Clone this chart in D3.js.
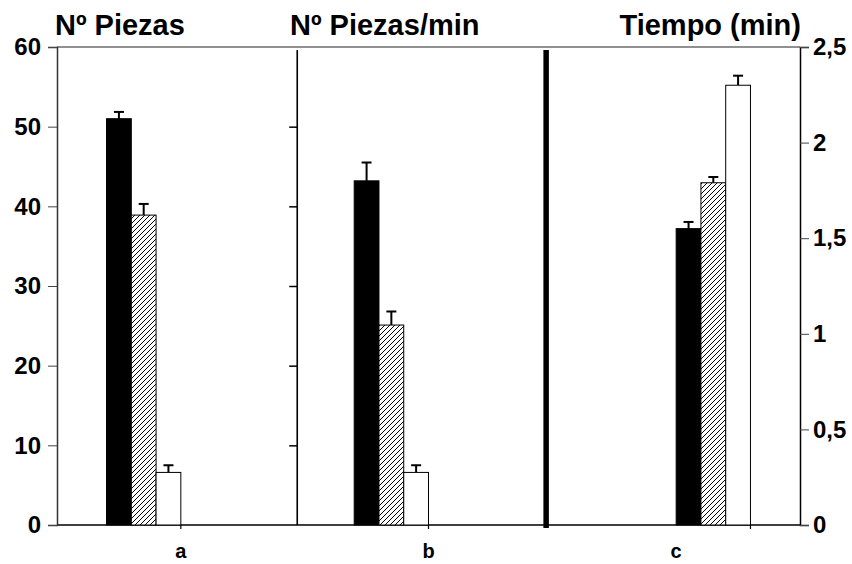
<!DOCTYPE html>
<html>
<head>
<meta charset="utf-8">
<script src="https://cdn.jsdelivr.net/npm/d3@7"></script>
<style>
  body { margin: 0; background: #fff; }
  text { font-family: "Liberation Sans", Arial, sans-serif; font-weight: bold; fill: #000; }
</style>
</head>
<body>
<div id="chart"></div>
<script>
// data
var categories = ["a", "b", "c"];
var titles = ["Nº Piezas", "Nº Piezas/min", "Tiempo (min)"];
var piezas = [51, 38.9, 6.6];
var piezasErr = [0.85, 1.4, 0.9];
var piezasMin = [43.2, 25.1, 6.6];
var piezasMinErr = [2.3, 1.7, 0.9];
var tiempo = [1.55, 1.79, 2.3];
var tiempoErr = [0.035, 0.03, 0.05];
var leftTicks = [0, 10, 20, 30, 40, 50, 60];
var rightTicks = [0, 0.5, 1, 1.5, 2, 2.5];

function init() {
  var w = 852;
  var h = 564;
  var left = 57, right = 800, top = 47, bottom = 525;

  var svg = d3.select("#chart")
    .append("svg")
    .attr("width", w)
    .attr("height", h);

  // x in "bar units": every bar is one unit wide
  var x = d3.scaleLinear().domain([0, 30]).range([left, right]);
  var groupStart = [2, 12, 25];
  var labelAt = [5, 15, 25];
  var dividers = [9.7, 19.75];

  var yLeft = d3.scaleLinear().domain([0, 60]).range([bottom, top]);
  var yRight = d3.scaleLinear().domain([0, 2.5]).range([bottom, top]);

  // hatch pattern
  var defs = svg.append("defs");
  var pat = defs.append("pattern")
    .attr("id", "hatch")
    .attr("patternUnits", "userSpaceOnUse")
    .attr("width", 5)
    .attr("height", 5);
  pat.append("rect").attr("width", 5).attr("height", 5).attr("fill", "#fff");
  pat.append("path")
    .attr("d", "M-1,1 L1,-1 M0,5 L5,0 M4,6 L6,4")
    .attr("stroke", "#000")
    .attr("stroke-width", 1);

  var fills = ["#000", "url(#hatch)", "#fff"];

  // frame
  svg.append("line")
    .attr("x1", left).attr("x2", right).attr("y1", top).attr("y2", top)
    .attr("stroke", "#222").attr("stroke-width", 1.2);
  svg.append("line")
    .attr("x1", left).attr("x2", right).attr("y1", bottom).attr("y2", bottom)
    .attr("stroke", "#000").attr("stroke-width", 1.6);

  // left axis
  var leftAxis = d3.axisLeft(yLeft)
    .tickValues(leftTicks)
    .tickSize(9)
    .tickPadding(7)
    .tickFormat(d3.format("d"));
  var gl = svg.append("g")
    .attr("transform", "translate(" + left + ",0)")
    .call(leftAxis);
  gl.select(".domain").attr("stroke", "#333").attr("stroke-width", 1.5);
  gl.selectAll(".tick line").attr("stroke", "#444");
  gl.selectAll(".tick text").style("font-size", "24px").style("font-family", null);

  // right axis
  var rightAxis = d3.axisRight(yRight)
    .tickValues(rightTicks)
    .tickSize(9)
    .tickPadding(4)
    .tickFormat(function(d) { return String(d).replace(".", ","); });
  var gr = svg.append("g")
    .attr("transform", "translate(" + right + ",0)")
    .call(rightAxis);
  gr.select(".domain").attr("stroke", "#000").attr("stroke-width", 1.5);
  gr.selectAll(".tick line").attr("stroke", "#444");
  gr.selectAll(".tick text").style("font-size", "24px").style("font-family", null);

  // middle axis (panel b, no labels)
  var midAxis = d3.axisLeft(yLeft)
    .tickValues([10, 20, 30, 40, 50])
    .tickSize(8)
    .tickFormat("");
  var gm = svg.append("g")
    .attr("transform", "translate(" + x(dividers[0]) + ",0)")
    .call(midAxis);
  gm.select(".domain").remove();
  gm.selectAll(".tick line").attr("stroke", "#000").attr("stroke-width", 1.5);
  svg.append("line")
    .attr("x1", x(dividers[0])).attr("x2", x(dividers[0]))
    .attr("y1", top + 3).attr("y2", bottom)
    .attr("stroke", "#000").attr("stroke-width", 1.6);

  // thick divider
  svg.append("line")
    .attr("x1", x(dividers[1])).attr("x2", x(dividers[1]))
    .attr("y1", top + 3).attr("y2", bottom + 3)
    .attr("stroke", "#000").attr("stroke-width", 5.5);

  // bottom ticks
  svg.selectAll(".btick")
    .data(groupStart)
    .enter()
    .append("line")
    .attr("x1", function(d) { return x(d + 3); })
    .attr("x2", function(d) { return x(d + 3); })
    .attr("y1", bottom).attr("y2", bottom + 4)
    .attr("stroke", "#000").attr("stroke-width", 1.2);

  var panels = [
    { vals: piezas, errs: piezasErr, y: yLeft },
    { vals: piezasMin, errs: piezasMinErr, y: yLeft },
    { vals: tiempo, errs: tiempoErr, y: yRight }
  ];

  panels.forEach(function(p, gi) {
    var g = svg.append("g");
    var rows = p.vals.map(function(v, i) { return { v: v, e: p.errs[i], i: i }; });

    // error bars (drawn first so the bar sits on top)
    g.selectAll(".err")
      .data(rows)
      .enter()
      .append("line")
      .attr("x1", function(d) { return x(groupStart[gi] + d.i + 0.5); })
      .attr("x2", function(d) { return x(groupStart[gi] + d.i + 0.5); })
      .attr("y1", function(d) { return p.y(d.v); })
      .attr("y2", function(d) { return p.y(d.v + d.e); })
      .attr("stroke", "#000").attr("stroke-width", 2);
    g.selectAll(".cap")
      .data(rows)
      .enter()
      .append("line")
      .attr("x1", function(d) { return x(groupStart[gi] + d.i + 0.5) - 5; })
      .attr("x2", function(d) { return x(groupStart[gi] + d.i + 0.5) + 5; })
      .attr("y1", function(d) { return p.y(d.v + d.e); })
      .attr("y2", function(d) { return p.y(d.v + d.e); })
      .attr("stroke", "#000").attr("stroke-width", 2);

    g.selectAll(".bar")
      .data(rows)
      .enter()
      .append("rect")
      .attr("x", function(d) { return x(groupStart[gi] + d.i); })
      .attr("width", function(d) { return x(groupStart[gi] + d.i + 1) - x(groupStart[gi] + d.i); })
      .attr("y", function(d) { return p.y(d.v); })
      .attr("height", function(d) { return bottom - p.y(d.v); })
      .attr("fill", function(d) { return fills[d.i]; })
      .attr("stroke", "#000")
      .attr("stroke-width", 1);
  });

  // category labels
  svg.selectAll(".cat")
    .data(categories)
    .enter()
    .append("text")
    .attr("x", function(d, i) { return x(labelAt[i]); })
    .attr("y", 558)
    .attr("text-anchor", "middle")
    .style("font-size", "20px")
    .text(function(d) { return d; });

  // panel titles
  svg.append("text").attr("x", 55).attr("y", 35).attr("font-size", "29px").text(titles[0]);
  svg.append("text").attr("x", 290).attr("y", 35).attr("font-size", "29px").text(titles[1]);
  svg.append("text").attr("x", 801).attr("y", 35).attr("font-size", "29px")
    .attr("text-anchor", "end").text(titles[2]);
}

window.onload = init;
</script>
</body>
</html>
